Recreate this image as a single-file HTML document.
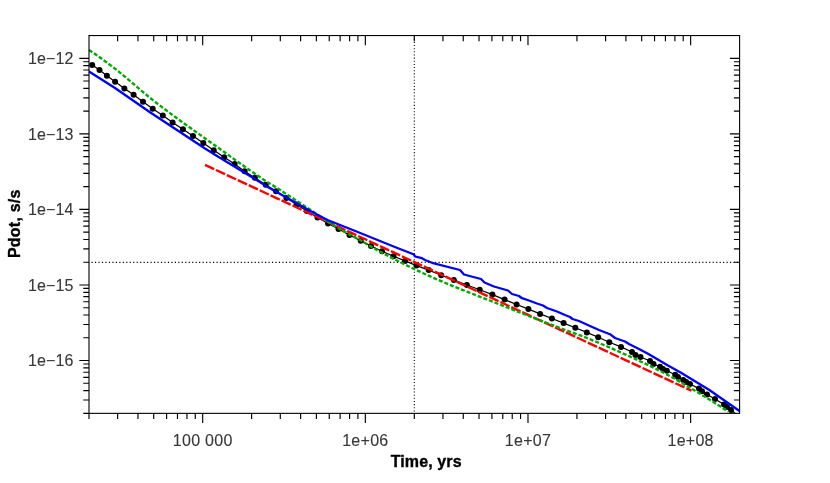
<!DOCTYPE html>
<html><head><meta charset="utf-8"><title>Pdot vs Time</title>
<style>html,body{margin:0;padding:0;background:#fff}body{width:830px;height:483px;overflow:hidden}svg{display:block;will-change:transform}text{font-family:"Liberation Sans",sans-serif;font-size:16px;fill:#383838;stroke:#383838;stroke-width:0.12px}.b{font-weight:bold;fill:#000;stroke:#000;stroke-width:0.35px}</style></head><body>
<svg width="830" height="483" viewBox="0 0 830 483">
<rect width="830" height="483" fill="#fff"/>
<g stroke="#000" stroke-width="1.1" fill="none">
<path d="M89.00 262.40 H739.60" stroke-dasharray="1.16 2.31" stroke-dashoffset="0.94"/>
<path d="M414.30 35.55 V413.35" stroke-dasharray="1.05 2.1"/>
</g>
<clipPath id="c"><rect x="88.5" y="35.0" width="651.6" height="378.8"/></clipPath>
<g clip-path="url(#c)" fill="none">
<path d="M92.20 65.10 L99.50 70.10 L106.90 75.70 L115.10 81.80 L124.40 88.40 L133.60 94.80 L143.00 101.80 L152.70 108.80 L162.80 115.60 L172.60 122.50 L182.90 129.20 L193.00 136.00 L203.30 143.10 L213.70 150.30 L224.20 157.30 L234.60 164.00 L244.60 171.20 L254.90 177.80 L265.70 184.70 L276.00 191.30 L286.40 197.90 L296.60 204.40 L306.80 211.00 L317.50 217.50 L328.00 223.50 L338.50 229.00 L349.50 235.00 L360.70 240.70 L371.00 246.00 L382.00 251.20 L393.50 256.20 L405.00 260.90 L416.50 265.60 L428.70 270.10 L441.20 275.30 L453.80 280.00 L466.90 285.00 L479.70 289.80 L492.40 294.60 L504.60 299.60 L516.60 304.50 L528.40 309.10 L540.10 313.90 L551.90 318.50 L563.60 323.10 L575.30 327.80 L586.80 332.40 L598.20 337.20 L609.30 342.20 L621.00 346.90 L632.00 352.00 L635.50 355.00 L640.50 357.00 L650.00 361.00 L653.50 364.00 L660.00 366.80 L663.00 369.00 L666.80 370.80 L675.20 374.80 L678.00 376.90 L683.20 380.00 L686.20 382.00 L690.00 384.00 L699.00 388.60 L702.00 391.20 L707.00 394.50 L715.00 399.00 L724.00 404.50 L727.00 407.00 L731.00 410.00 L735.00 413.20" stroke="#000" stroke-width="1.2"/>
<g fill="#000"><circle cx="92.2" cy="65.1" r="3"/><circle cx="99.5" cy="70.1" r="3"/><circle cx="106.9" cy="75.7" r="3"/><circle cx="115.1" cy="81.8" r="3"/><circle cx="124.4" cy="88.4" r="3"/><circle cx="133.6" cy="94.8" r="3"/><circle cx="143.0" cy="101.8" r="3"/><circle cx="152.7" cy="108.8" r="3"/><circle cx="162.8" cy="115.6" r="3"/><circle cx="172.6" cy="122.5" r="3"/><circle cx="182.9" cy="129.2" r="3"/><circle cx="193.0" cy="136.0" r="3"/><circle cx="203.3" cy="143.1" r="3"/><circle cx="213.7" cy="150.3" r="3"/><circle cx="224.2" cy="157.3" r="3"/><circle cx="234.6" cy="164.0" r="3"/><circle cx="244.6" cy="171.2" r="3"/><circle cx="254.9" cy="177.8" r="3"/><circle cx="265.7" cy="184.7" r="3"/><circle cx="276.0" cy="191.3" r="3"/><circle cx="286.4" cy="197.9" r="3"/><circle cx="296.6" cy="204.4" r="3"/><circle cx="306.8" cy="211.0" r="3"/><circle cx="317.5" cy="217.5" r="3"/><circle cx="328.0" cy="223.5" r="3"/><circle cx="338.5" cy="229.0" r="3"/><circle cx="349.5" cy="235.0" r="3"/><circle cx="360.7" cy="240.7" r="3"/><circle cx="371.0" cy="246.0" r="3"/><circle cx="382.0" cy="251.2" r="3"/><circle cx="393.5" cy="256.2" r="3"/><circle cx="405.0" cy="260.9" r="3"/><circle cx="416.5" cy="265.6" r="3"/><circle cx="428.7" cy="270.1" r="3"/><circle cx="441.2" cy="275.3" r="3"/><circle cx="453.8" cy="280.0" r="3"/><circle cx="466.9" cy="285.0" r="3"/><circle cx="479.7" cy="289.8" r="3"/><circle cx="492.4" cy="294.6" r="3"/><circle cx="504.6" cy="299.6" r="3"/><circle cx="516.6" cy="304.5" r="3"/><circle cx="528.4" cy="309.1" r="3"/><circle cx="540.1" cy="313.9" r="3"/><circle cx="551.9" cy="318.5" r="3"/><circle cx="563.6" cy="323.1" r="3"/><circle cx="575.3" cy="327.8" r="3"/><circle cx="586.8" cy="332.4" r="3"/><circle cx="598.2" cy="337.2" r="3"/><circle cx="609.3" cy="342.2" r="3"/><circle cx="621.0" cy="346.9" r="3"/><circle cx="632.0" cy="352.0" r="3"/><circle cx="635.5" cy="355.0" r="3"/><circle cx="640.5" cy="357.0" r="3"/><circle cx="650.0" cy="361.0" r="3"/><circle cx="653.5" cy="364.0" r="3"/><circle cx="660.0" cy="366.8" r="3"/><circle cx="663.0" cy="369.0" r="3"/><circle cx="666.8" cy="370.8" r="3"/><circle cx="675.2" cy="374.8" r="3"/><circle cx="678.0" cy="376.9" r="3"/><circle cx="683.2" cy="380.0" r="3"/><circle cx="686.2" cy="382.0" r="3"/><circle cx="690.0" cy="384.0" r="3"/><circle cx="699.0" cy="388.6" r="3"/><circle cx="702.0" cy="391.2" r="3"/><circle cx="707.0" cy="394.5" r="3"/><circle cx="715.0" cy="399.0" r="3"/><circle cx="724.0" cy="404.5" r="3"/><circle cx="727.0" cy="407.0" r="3"/><circle cx="731.0" cy="410.0" r="3"/></g>
<path d="M205.00 164.90 L691.50 390.70" stroke="#ff0000" stroke-width="2.4" stroke-dasharray="10.05 2.01"/>
<path d="M89.00 49.90 L92.55 52.33 L96.10 54.80 L99.65 57.32 L103.20 59.87 L106.75 62.47 L110.30 65.11 L113.85 67.80 L117.40 70.56 L120.95 73.41 L124.50 76.33 L128.05 79.31 L131.60 82.33 L135.15 85.36 L138.70 88.40 L142.25 91.41 L145.80 94.38 L149.35 97.30 L152.90 100.14 L156.45 102.90 L160.00 105.63 L163.55 108.32 L167.10 110.99 L170.65 113.63 L174.20 116.25 L177.75 118.85 L181.30 121.43 L184.85 124.00 L188.40 126.55 L191.95 129.09 L195.50 131.62 L199.05 134.14 L202.60 136.66 L206.15 139.18 L209.70 141.69 L213.25 144.21 L216.80 146.73 L220.35 149.26 L223.90 151.80 L227.45 154.35 L231.00 156.89 L234.55 159.44 L238.10 161.97 L241.65 164.50 L245.20 167.01 L248.75 169.49 L252.30 171.96 L255.85 174.39 L259.40 176.79 L262.95 179.15 L266.50 181.47 L270.05 183.69 L273.60 185.87 L277.15 188.08 L280.70 190.35 L284.25 192.65 L287.80 194.97 L291.35 197.30 L294.90 199.64 L298.45 201.99 L302.00 204.34 L305.55 206.68 L309.10 209.01 L312.65 211.34 L316.20 213.71 L319.75 216.09 L323.30 218.47 L326.85 220.83 L330.40 223.15 L333.95 225.41 L337.50 227.60 L341.05 229.69 L344.60 231.68 L348.15 233.60 L351.70 235.48 L355.25 237.38 L358.80 239.32 L362.35 241.36 L365.90 243.48 L369.45 245.62 L373.00 247.73 L376.55 249.75 L380.10 251.68 L383.65 253.59 L387.20 255.47 L390.75 257.33 L394.30 259.16 L397.85 260.97 L401.40 262.76 L404.95 264.52 L408.50 266.26 L412.05 267.98 L415.60 269.67 L419.15 271.34 L422.70 272.99 L426.25 274.61 L429.80 276.21 L433.35 277.79 L436.90 279.33 L440.45 280.85 L444.00 282.35 L447.55 283.83 L451.10 285.29 L454.65 286.73 L458.20 288.15 L461.75 289.57 L465.30 290.97 L468.85 292.37 L472.40 293.75 L475.95 295.14 L479.50 296.52 L483.05 297.91 L486.60 299.30 L490.15 300.69 L493.70 302.09 L497.25 303.50 L500.80 304.91 L504.35 306.32 L507.90 307.72 L511.45 309.13 L515.00 310.54 L518.55 311.94 L522.10 313.34 L525.65 314.73 L529.20 316.12 L532.75 317.51 L536.30 318.90 L539.85 320.28 L543.40 321.65 L546.95 323.02 L550.50 324.38 L554.05 325.74 L557.60 327.09 L561.15 328.43 L564.70 329.75 L568.25 331.03 L571.80 332.32 L575.35 333.61 L578.90 334.93 L582.45 336.28 L586.00 337.69 L589.55 339.11 L593.10 340.55 L596.65 342.01 L600.20 343.49 L603.75 344.99 L607.30 346.51 L610.85 348.04 L614.40 349.59 L617.95 351.15 L621.50 352.73 L625.05 354.32 L628.60 355.92 L632.15 357.54 L635.70 359.17 L639.25 360.81 L642.80 362.47 L646.35 364.16 L649.90 365.87 L653.45 367.61 L657.00 369.38 L660.55 371.18 L664.10 373.03 L667.65 374.91 L671.20 376.85 L674.75 378.82 L678.30 380.84 L681.85 382.89 L685.40 384.97 L688.95 387.08 L692.50 389.22 L696.05 391.37 L699.60 393.53 L703.15 395.71 L706.70 397.90 L710.25 400.08 L713.80 402.29 L717.35 404.55 L720.90 406.83 L724.45 409.13 L728.00 411.43" stroke="#00aa00" stroke-width="2.4" stroke-dasharray="4 2"/>
<path d="M89.00 71.50 L115.00 88.00 L150.00 112.30 L205.00 148.50 L215.00 154.70 L265.00 185.20 L269.50 188.00 L315.00 213.50 L327.50 220.00 L356.50 231.50 L398.00 248.20 L413.50 254.30 L415.50 256.70 L422.00 258.20 L425.00 260.00 L432.00 262.80 L460.00 270.00 L464.00 274.50 L481.00 279.00 L484.50 282.50 L494.00 286.50 L508.00 290.50 L512.00 294.00 L519.00 296.00 L522.00 298.20 L529.00 300.50 L537.00 303.50 L543.00 305.50 L547.00 308.00 L557.00 311.50 L565.00 315.00 L570.00 317.00 L572.50 319.00 L579.00 321.00 L590.00 326.00 L599.00 330.00 L610.00 334.20 L615.00 338.00 L625.00 341.50 L629.00 344.00 L639.00 349.00 L648.00 353.80 L668.00 365.60 L680.60 372.60 L709.00 389.70 L739.50 411.00" stroke="#0000ff" stroke-width="2.3" stroke-linejoin="round"/>
</g>
<path d="M89.00 413.35 v5.7 M117.64 413.35 v5.7 M117.64 35.55 v5.7 M137.96 413.35 v5.7 M137.96 35.55 v5.7 M153.72 413.35 v5.7 M153.72 35.55 v5.7 M166.60 413.35 v5.7 M166.60 35.55 v5.7 M177.49 413.35 v5.7 M177.49 35.55 v5.7 M186.93 413.35 v5.7 M186.93 35.55 v5.7 M195.25 413.35 v5.7 M195.25 35.55 v5.7 M202.69 413.35 v9.7 M202.69 35.55 v9.7 M251.65 413.35 v5.7 M251.65 35.55 v5.7 M280.29 413.35 v5.7 M280.29 35.55 v5.7 M300.61 413.35 v5.7 M300.61 35.55 v5.7 M316.37 413.35 v5.7 M316.37 35.55 v5.7 M329.25 413.35 v5.7 M329.25 35.55 v5.7 M340.14 413.35 v5.7 M340.14 35.55 v5.7 M349.58 413.35 v5.7 M349.58 35.55 v5.7 M357.90 413.35 v5.7 M357.90 35.55 v5.7 M365.34 413.35 v9.7 M365.34 35.55 v9.7 M414.30 413.35 v5.7 M414.30 35.55 v5.7 M442.94 413.35 v5.7 M442.94 35.55 v5.7 M463.26 413.35 v5.7 M463.26 35.55 v5.7 M479.02 413.35 v5.7 M479.02 35.55 v5.7 M491.90 413.35 v5.7 M491.90 35.55 v5.7 M502.79 413.35 v5.7 M502.79 35.55 v5.7 M512.23 413.35 v5.7 M512.23 35.55 v5.7 M520.55 413.35 v5.7 M520.55 35.55 v5.7 M527.99 413.35 v9.7 M527.99 35.55 v9.7 M576.95 413.35 v5.7 M576.95 35.55 v5.7 M605.59 413.35 v5.7 M605.59 35.55 v5.7 M625.91 413.35 v5.7 M625.91 35.55 v5.7 M641.67 413.35 v5.7 M641.67 35.55 v5.7 M654.55 413.35 v5.7 M654.55 35.55 v5.7 M665.44 413.35 v5.7 M665.44 35.55 v5.7 M674.88 413.35 v5.7 M674.88 35.55 v5.7 M683.20 413.35 v5.7 M683.20 35.55 v5.7 M690.64 413.35 v9.7 M690.64 35.55 v9.7 M89.00 413.35 h-5.7 M89.00 400.04 h-5.7 M739.60 400.04 h-5.7 M89.00 390.60 h-5.7 M739.60 390.60 h-5.7 M89.00 383.28 h-5.7 M739.60 383.28 h-5.7 M89.00 377.30 h-5.7 M739.60 377.30 h-5.7 M89.00 372.24 h-5.7 M739.60 372.24 h-5.7 M89.00 367.86 h-5.7 M739.60 367.86 h-5.7 M89.00 363.99 h-5.7 M739.60 363.99 h-5.7 M89.00 360.54 h-9.7 M739.60 360.54 h-9.7 M89.00 337.79 h-5.7 M739.60 337.79 h-5.7 M89.00 324.48 h-5.7 M739.60 324.48 h-5.7 M89.00 315.04 h-5.7 M739.60 315.04 h-5.7 M89.00 307.72 h-5.7 M739.60 307.72 h-5.7 M89.00 301.74 h-5.7 M739.60 301.74 h-5.7 M89.00 296.68 h-5.7 M739.60 296.68 h-5.7 M89.00 292.30 h-5.7 M739.60 292.30 h-5.7 M89.00 288.43 h-5.7 M739.60 288.43 h-5.7 M89.00 284.98 h-9.7 M739.60 284.98 h-9.7 M89.00 262.23 h-5.7 M739.60 262.23 h-5.7 M89.00 248.92 h-5.7 M739.60 248.92 h-5.7 M89.00 239.48 h-5.7 M739.60 239.48 h-5.7 M89.00 232.16 h-5.7 M739.60 232.16 h-5.7 M89.00 226.18 h-5.7 M739.60 226.18 h-5.7 M89.00 221.12 h-5.7 M739.60 221.12 h-5.7 M89.00 216.74 h-5.7 M739.60 216.74 h-5.7 M89.00 212.87 h-5.7 M739.60 212.87 h-5.7 M89.00 209.42 h-9.7 M739.60 209.42 h-9.7 M89.00 186.67 h-5.7 M739.60 186.67 h-5.7 M89.00 173.36 h-5.7 M739.60 173.36 h-5.7 M89.00 163.92 h-5.7 M739.60 163.92 h-5.7 M89.00 156.60 h-5.7 M739.60 156.60 h-5.7 M89.00 150.62 h-5.7 M739.60 150.62 h-5.7 M89.00 145.56 h-5.7 M739.60 145.56 h-5.7 M89.00 141.18 h-5.7 M739.60 141.18 h-5.7 M89.00 137.31 h-5.7 M739.60 137.31 h-5.7 M89.00 133.86 h-9.7 M739.60 133.86 h-9.7 M89.00 111.11 h-5.7 M739.60 111.11 h-5.7 M89.00 97.80 h-5.7 M739.60 97.80 h-5.7 M89.00 88.36 h-5.7 M739.60 88.36 h-5.7 M89.00 81.04 h-5.7 M739.60 81.04 h-5.7 M89.00 75.06 h-5.7 M739.60 75.06 h-5.7 M89.00 70.00 h-5.7 M739.60 70.00 h-5.7 M89.00 65.62 h-5.7 M739.60 65.62 h-5.7 M89.00 61.75 h-5.7 M739.60 61.75 h-5.7 M89.00 58.30 h-9.7 M739.60 58.30 h-9.7" stroke="#000" stroke-width="1.15" fill="none"/>
<rect x="89.00" y="35.55" width="650.60" height="377.80" fill="none" stroke="#000" stroke-width="1.1"/>
<text x="73.6" y="366.24" text-anchor="end" letter-spacing="0.12">1e−16</text>
<text x="73.6" y="290.68" text-anchor="end" letter-spacing="0.12">1e−15</text>
<text x="73.6" y="215.12" text-anchor="end" letter-spacing="0.12">1e−14</text>
<text x="73.6" y="139.56" text-anchor="end" letter-spacing="0.12">1e−13</text>
<text x="73.6" y="64.00" text-anchor="end" letter-spacing="0.12">1e−12</text>
<text x="202.69" y="445.6" text-anchor="middle" letter-spacing="0.28">100 000</text>
<text x="365.34" y="445.6" text-anchor="middle" letter-spacing="0.28">1e+06</text>
<text x="527.99" y="445.6" text-anchor="middle" letter-spacing="0.28">1e+07</text>
<text x="690.64" y="445.6" text-anchor="middle" letter-spacing="0.28">1e+08</text>
<text class="b" x="426.2" y="466.6" text-anchor="middle" letter-spacing="0.12">Time, yrs</text>
<text class="b" transform="translate(19.6 223.7) rotate(-90)" text-anchor="middle" letter-spacing="0.22">Pdot, s/s</text>
</svg></body></html>
